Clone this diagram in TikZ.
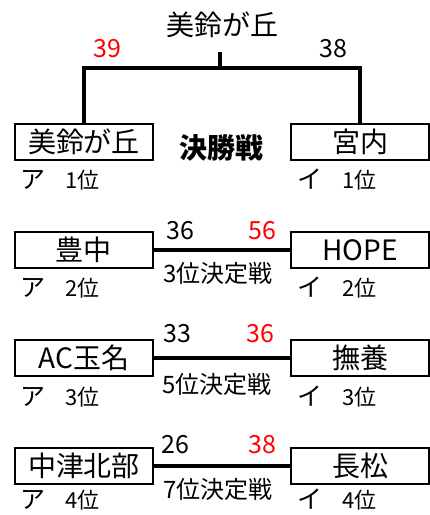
\documentclass[tikz,border=0pt]{standalone}
\usepackage{fontspec}
\setmainfont{Noto Sans CJK JP}
\newcommand{\kana}[1]{{\fontsize{25}{25}\selectfont #1}}
\begin{document}
\begin{tikzpicture}[x=1pt,y=-1pt,
		team/.style={draw,line width=1.8pt,minimum width=138pt,minimum height=36pt,inner sep=0pt,font=\fontsize{28}{28}\selectfont},
		score/.style={inner sep=0pt,font=\fontsize{25}{25}\selectfont},
		win/.style={score,red},
		rank/.style={anchor=west,inner sep=0pt,font=\fontsize{22}{22}\selectfont},
		game/.style={inner sep=0pt,font=\fontsize{24}{24}\selectfont},
		bar/.style={line width=4.5pt}]
		\useasboundingbox (0,0) rectangle (430,515);
		% final
		\node[team] (L1) at (84,142) {美鈴が丘};
		\node[team] (R1) at (360,142) {宮内};
		\node[inner sep=0pt,font=\fontsize{28}{28}\selectfont] (champ) at (222,25) {美鈴が丘};
		\coordinate (top) at (220,68);
		\coordinate (stub) at (220,52);
		\draw[bar] (L1.north) |- (top) -| (R1.north);
		\draw[bar] (top) -- (stub);
		\node[win] (s1l) at (107,49) {39};
		\node[score] (s1r) at (333,49) {38};
		\node[inner sep=0pt,font=\bfseries\fontsize{28}{28}\selectfont] (g1) at (221,148) {決勝戦};
		\node[rank] (a1) at (20,180) {\kana{ア}\hspace{20pt}1位};
		\node[rank] (i1) at (297,180) {\kana{イ}\hspace{20pt}1位};
		% 3rd place
		\node[team] (L2) at (84,250) {豊中};
		\node[team] (R2) at (360,250) {HOPE};
		\draw[bar] (L2) -- (R2);
		\node[score] (s2l) at (180,231) {36};
		\node[win] (s2r) at (262,231) {56};
		\node[game] (g2) at (218,273) {3位決定戦};
		\node[rank] (a2) at (20,288) {\kana{ア}\hspace{20pt}2位};
		\node[rank] (i2) at (297,288) {\kana{イ}\hspace{20pt}2位};
		% 5th place
		\node[team] (L3) at (84,358) {AC玉名};
		\node[team] (R3) at (360,358) {撫養};
		\draw[bar] (L3) -- (R3);
		\node[score] (s3l) at (177,334) {33};
		\node[win] (s3r) at (260,334) {36};
		\node[game] (g3) at (217,384) {5位決定戦};
		\node[rank] (a3) at (20,397) {\kana{ア}\hspace{20pt}3位};
		\node[rank] (i3) at (297,397) {\kana{イ}\hspace{20pt}3位};
		% 7th place
		\node[team] (L4) at (84,466) {中津北部};
		\node[team] (R4) at (360,466) {長松};
		\draw[bar] (L4) -- (R4);
		\node[score] (s4l) at (175,445) {26};
		\node[win] (s4r) at (262,445) {38};
		\node[game] (g4) at (218,489) {7位決定戦};
		\node[rank] (a4) at (20,500) {\kana{ア}\hspace{20pt}4位};
		\node[rank] (i4) at (297,500) {\kana{イ}\hspace{20pt}4位};
\end{tikzpicture}
\end{document}
